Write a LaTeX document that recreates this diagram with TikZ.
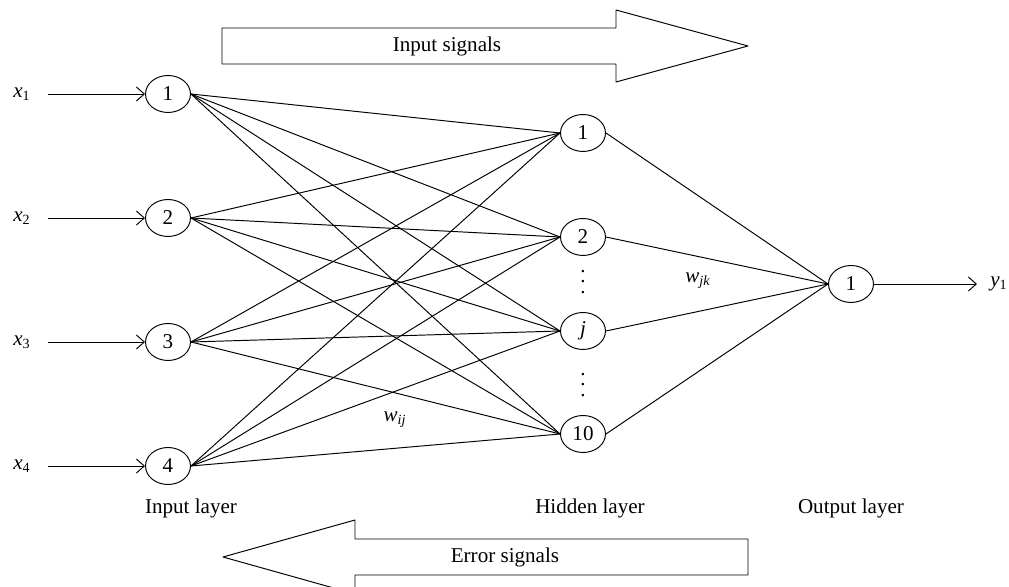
\documentclass[tikz,border=0pt]{standalone}
\usepackage{fontspec}
\setmainfont{Liberation Serif}
\usetikzlibrary{shapes.geometric, arrows.meta}
\newcommand{\vdotsbig}{\vbox{\baselineskip6pt\lineskiplimit0pt\hbox{.}\hbox{.}\hbox{.}}}
\begin{document}
\begin{tikzpicture}[x=0.02cm, y=-0.02cm, font=\fontsize{12}{14}\selectfont, line join=round,
  line width=0.55pt, >={Straight Barb[length=4.5pt,width=8pt]},
  neuron/.style={draw, ellipse, minimum width=0.9cm, minimum height=0.74cm, inner sep=0pt},
  layer/.style={inner sep=0pt}]
\useasboundingbox (0,0) rectangle (1009,587);
% input layer
\foreach \i/\y in {1/94,2/218,3/342,4/466} {
  \node[neuron] (in\i) at (168,\y) {\i};
  \node (x\i) at (22,\y) {\textit{x}\textsubscript{\i}};
  \coordinate (s\i) at (48,\y);
  \draw[->] (s\i) -- (in\i);
}
% hidden layer
\node[neuron] (h1) at (583,133) {1};
\node[neuron] (h2) at (583,237) {2};
\node[neuron] (h3) at (583,331) {\textit{j}};
\node[neuron] (h4) at (583,434) {10};
\node[inner sep=0pt] (d1) at (583,282) {\vdotsbig};
\node[inner sep=0pt] (d2) at (583,385) {\vdotsbig};
% output layer
\node[neuron] (o1) at (851,284) {1};
\node (y1) at (999,284) {\textit{y}\textsubscript{1}};
\coordinate (e1) at (977,284);
\draw[->] (o1) -- (e1);
% weights
\foreach \i in {1,...,4}
  \foreach \j in {1,...,4}
    \draw (in\i.east) -- (h\j.west);
\foreach \j in {1,...,4}
  \draw (h\j.east) -- (o1.west);
\node (wij) at (395,420) {\textit{w}\textsubscript{\textit{ij}}};
\node (wjk) at (698,281) {\textit{w}\textsubscript{\textit{jk}}};
% layer names
\node[layer] (li) at (191,508) {Input layer};
\node[layer] (lh) at (590,508) {Hidden layer};
\node[layer] (lo) at (851,508) {Output layer};
% signal arrows
\draw (222,28) -- (616,28) -- (616,10) -- (748,46) -- (616,82) -- (616,64) -- (222,64) -- cycle;
\node (is) at (447,46) {Input signals};
\draw (748,539) -- (355,539) -- (355,520) -- (223,557) -- (355,594) -- (355,575) -- (748,575) -- cycle;
\node (es) at (505,557) {Error signals};
\end{tikzpicture}
\end{document}
